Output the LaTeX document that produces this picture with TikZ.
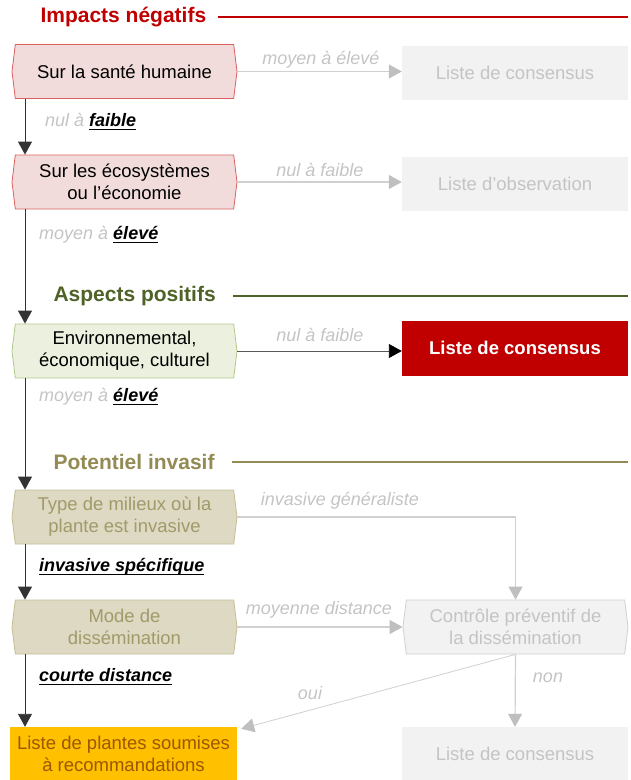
\documentclass[tikz,border=0pt]{standalone}
\usepackage{fontspec}
\setmainfont{Liberation Sans}
\usetikzlibrary{shapes.symbols,arrows.meta}
\definecolor{cred}{HTML}{C00000}
\definecolor{pinkfill}{HTML}{F2DCDB}
\definecolor{pinkdraw}{HTML}{DA6060}
\definecolor{cgreen}{HTML}{4F6228}
\definecolor{greenfill}{HTML}{EBF1DE}
\definecolor{greendraw}{HTML}{B3C98C}
\definecolor{colive}{HTML}{948A54}
\definecolor{olivefill}{HTML}{DDD9C3}
\definecolor{olivedraw}{HTML}{C4BD97}
\definecolor{olivetext}{HTML}{A29A6A}
\definecolor{lgray}{HTML}{F2F2F2}
\definecolor{ltext}{HTML}{C4C4C4}
\definecolor{lline}{HTML}{D0D0D0}
\definecolor{ltip}{HTML}{BFBFBF}
\definecolor{corange}{HTML}{FFC000}
\definecolor{orangetext}{HTML}{9C5700}
\newcommand\myul[1]{\setbox0\hbox{#1}\rlap{\rule[-3.5pt]{\wd0}{1.4pt}}\box0}
\begin{document}
\begin{tikzpicture}[x=1pt,y=-1pt,
  font=\fontsize{18.5}{22}\selectfont,
  hexbox/.style={signal, signal to=east and west, signal pointer angle=166,
    minimum width=225pt, minimum height=54pt, inner sep=0pt, align=center, line width=0.8pt},
  listbox/.style={rectangle, minimum width=226pt, minimum height=54pt, inner sep=0pt, align=center},
  heading/.style={anchor=west, font=\fontsize{21}{24}\selectfont\bfseries},
  rule/.style={line width=2.5pt},
  lab/.style={font=\fontsize{18}{22}\selectfont\itshape, text=ltext, inner sep=0pt},
  mainarrow/.style={draw=black!80, line width=0.9pt, -{Triangle[width=14pt,length=13pt]}},
  grayarrow/.style={draw=lline, line width=1.2pt, -{Triangle[width=14pt,length=13pt,color=ltip]}},
  blackhz/.style={draw=black!65, line width=0.9pt, -{Triangle[width=14pt,length=13pt,color=black]}},
  hl/.style={text=black, font=\fontsize{18}{22}\selectfont\bfseries\itshape}
]
\useasboundingbox (0,0) rectangle (631,780);
\coordinate (X) at (25,0);
\coordinate (R) at (628,0);

% headings
\node[heading, text=cred] (h1) at (37,17) {Impacts négatifs};
\draw[rule, cred] ([xshift=8pt]h1.east) -- (h1.east -| R);
\node[heading, text=cgreen] (h2) at (50,296) {Aspects positifs};
\draw[rule, cgreen] ([xshift=14pt]h2.east) -- (h2.east -| R);
\node[heading, text=colive] (h3) at (50,462) {Potentiel invasif};
\draw[rule, colive] ([xshift=14pt]h3.east) -- (h3.east -| R);

% left column
\node[hexbox, fill=pinkfill, draw=pinkdraw] (b1) at (124.5,71.5) {Sur la santé humaine};
\node[hexbox, fill=pinkfill, draw=pinkdraw] (b2) at (124.5,182) {Sur les écosystèmes\\ou l’économie};
\node[hexbox, fill=greenfill, draw=greendraw] (b3) at (124.5,351) {Environnemental,\\économique, culturel};
\node[hexbox, fill=olivefill, draw=olivedraw, text=olivetext] (b4) at (124.5,517) {Type de milieux où la\\plante est invasive};
\node[hexbox, fill=olivefill, draw=olivedraw, text=olivetext] (b5) at (124.5,627) {Mode de\\dissémination};
\node[listbox, minimum width=227pt, fill=corange, text=orangetext] (b6) at (123.5,754) {Liste de plantes soumises\\à recommandations};

% right column
\node[listbox, fill=lgray, text=ltext] (l1) at (515,73) {Liste de consensus};
\node[listbox, fill=lgray, text=ltext] (l2) at (515,184) {Liste d’observation};
\node[listbox, fill=cred, text=white, font=\fontsize{18.5}{22}\selectfont\bfseries, minimum height=55pt] (l3) at (515,348) {Liste de consensus};
\node[hexbox, fill=lgray, draw=lline, text=ltext] (c1) at (515.5,627) {Contrôle préventif de\\la dissémination};
\node[listbox, fill=lgray, text=ltext] (l4) at (515,754) {Liste de consensus};

% vertical main arrows
\draw[mainarrow] (b1.south -| X) -- (b2.north -| X);
\draw[mainarrow] (b2.south -| X) -- (b3.north -| X);
\draw[mainarrow] (b3.south -| X) -- (b4.north -| X);
\draw[mainarrow] (b4.south -| X) -- (b5.north -| X);
\draw[mainarrow] (b5.south -| X) -- (b6.north -| X);

% vertical labels
\node[lab, anchor=west] (t1) at (45,122) {nul à \textcolor{black}{\bfseries\myul{faible}}};
\node[lab, anchor=west] (t2) at (39,235) {moyen à \textcolor{black}{\bfseries\myul{élevé}}};
\node[lab, anchor=west] (t3) at (39,397) {moyen à \textcolor{black}{\bfseries\myul{élevé}}};
\node[lab, anchor=west, hl] (t4) at (39,567) {\myul{invasive spécifique}};
\node[lab, anchor=west, hl] (t5) at (39,677) {\myul{courte distance}};

% horizontal arrows
\draw[grayarrow] (b1.east) -- (b1.east -| l1.west);
\node[lab] (t6) at (321,60) {moyen à élevé};
\draw[grayarrow] (b2.east) -- (b2.east -| l2.west);
\node[lab] (t7) at (320,170) {nul à faible};
\draw[blackhz] (b3.east) -- (b3.east -| l3.west);
\node[lab] (t8) at (320,335) {nul à faible};
\draw[grayarrow] (b4.east) -| (c1.north);
\node[lab] (t9) at (340,501) {invasive généraliste};
\draw[grayarrow] (b5.east) -- (c1.west);
\node[lab] (t10) at (319,610) {moyenne distance};
\draw[grayarrow, line width=0.8pt] (c1.south) -- ([xshift=4pt,yshift=-2pt]b6.north east);
\node[lab] (t11) at (310,693) {oui};
\draw[grayarrow] (c1.south) -- (l4.north);
\node[lab] (t12) at (548,678) {non};
\end{tikzpicture}
\end{document}
